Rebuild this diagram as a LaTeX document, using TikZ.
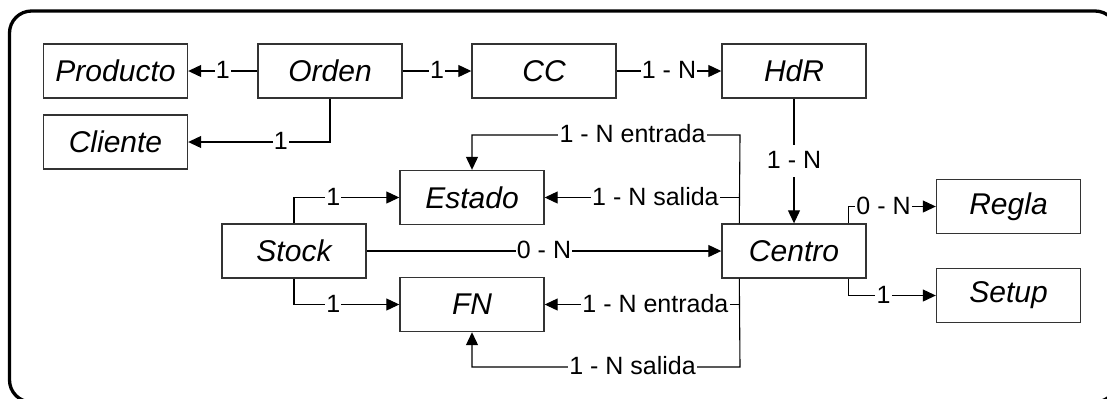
\documentclass[tikz,border=0pt]{standalone}
\usepackage{fontspec}
\setmainfont{Liberation Sans}
\usetikzlibrary{arrows.meta}
\begin{document}
\begin{tikzpicture}[x=0.5pt,y=-0.5pt,
  entity/.style={draw=black!80, line width=0.7pt, minimum width=72pt,
    minimum height=27pt, inner sep=0pt,
    font=\fontsize{15}{18}\selectfont\itshape},
  conn/.style={draw=black, line width=0.55pt,
    -{Triangle[length=6.5pt,width=6pt]}},
  lbl/.style={fill=white, inner xsep=0.6pt, inner ysep=0.75pt,
    text height=11pt, text depth=3.5pt,
    font=\fontsize{12.5}{14}\selectfont},
  frame/.style={draw=black, line width=1.65pt, rounded corners=11pt}
]
\useasboundingbox (0,0) rectangle (1107,398);
\clip (0,0) rectangle (1107,398);

% outer frame
\path[frame] (9.5,11) rectangle (1117,402);

% entities
\node[entity] (producto) at (115.5,71)  {Producto};
\node[entity] (orden)    at (330,71)    {Orden};
\node[entity] (cc)       at (544,71)    {CC};
\node[entity] (hdr)      at (794,71)    {HdR};
\node[entity] (cliente)  at (115.5,142) {Cliente};
\node[entity] (estado)   at (472,197.5) {Estado};
\node[entity] (stock)    at (294,251)   {Stock};
\node[entity] (fn)       at (472,304.5) {FN};
\node[entity] (centro)   at (794,251)   {Centro};
\node[entity] (regla)    at (1008.5,206.5) {Regla};
\node[entity] (setup)    at (1008.5,295.5) {Setup};

% bend points
\coordinate (cTop)  at ([xshift=9pt]centro.north west);
\coordinate (cBot)  at ([xshift=9pt]centro.south west);
\coordinate (cTopR) at ([xshift=-9pt]centro.north east);
\coordinate (cBotR) at ([xshift=-9pt]centro.south east);
\coordinate (eTop)  at (740,135);
\coordinate (fLow)  at (740,367);

% top row
\draw[conn] (orden) -- node[lbl]{1} (producto);
\draw[conn] (orden.south) -- (orden.south |- cliente.east)
  -- node[lbl,pos=0.346]{1} (cliente.east);
\draw[conn] (orden) -- node[lbl]{1} (cc);
\draw[conn] (cc) -- node[lbl]{1 - N} (hdr);
\draw[conn] (hdr) -- node[lbl]{1 - N} (centro);

% Centro to Estado
\draw[conn] (cTop) -- (eTop) -- node[lbl,pos=0.401]{1 - N entrada} (eTop -| estado.north)
  -- (estado.north);
\draw[conn] (cTop) -- (cTop |- estado.east)
  -- node[lbl,pos=0.431]{1 - N salida} (estado.east);

% Centro to FN
\draw[conn] (cBot) -- (cBot |- fn.east)
  -- node[lbl,pos=0.431]{1 - N entrada} (fn.east);
\draw[conn] (cBot) -- (fLow) -- node[lbl,pos=0.401]{1 - N salida} (fLow -| fn.south)
  -- (fn.south);

% Stock
\draw[conn] (stock.north) -- (stock.north |- estado.west)
  -- node[lbl,pos=0.373]{1} (estado.west);
\draw[conn] (stock.south) -- (stock.south |- fn.west)
  -- node[lbl,pos=0.373]{1} (fn.west);
\draw[conn] (stock) -- node[lbl]{0 - N} (centro);

% Centro to Regla and Setup
\draw[conn] (cTopR) -- (cTopR |- regla.west)
  -- node[lbl,pos=0.4]{0 - N} (regla.west);
\draw[conn] (cBotR) -- (cBotR |- setup.west)
  -- node[lbl,pos=0.4]{1} (setup.west);
\end{tikzpicture}
\end{document}
